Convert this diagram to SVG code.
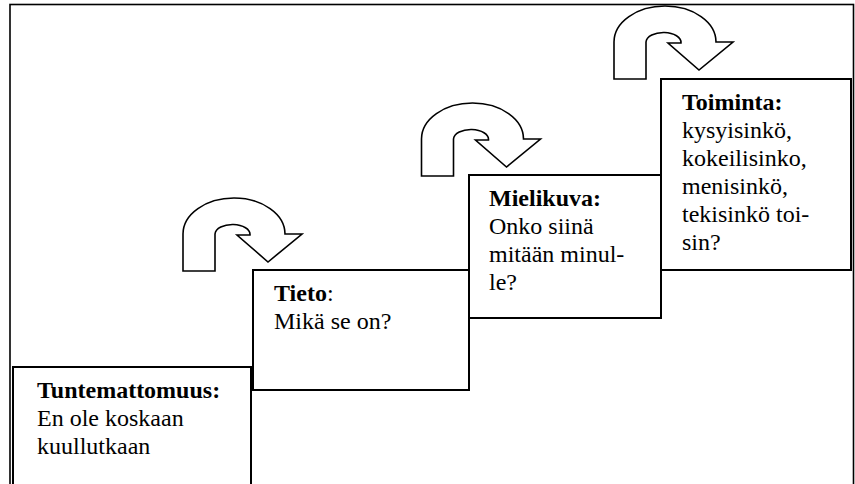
<svg xmlns="http://www.w3.org/2000/svg" width="855" height="484" viewBox="0 0 855 484">
<style>
.frame{fill:none;stroke:#000;stroke-width:1.6}
.box{fill:#fff;stroke:#000;stroke-width:2}
.arrow{fill:#fff;stroke:#000;stroke-width:1.6;stroke-linejoin:miter}
.b{font-weight:bold}
</style>
<defs>
<path id="uturn" d="M0 73 L0 36 A51 36 0 0 1 102 36 L119 36 L85 64 L54 37 L67 37 A17.5 10 0 0 0 32 36 L32 73 Z"/>
</defs>
<rect width="855" height="484" fill="#fff"/>
<rect class="frame" x="10" y="4.5" width="843.5" height="500"/>
<g id="connectors">
<use href="#uturn" class="arrow" transform="translate(183,198)"/>
<use href="#uturn" class="arrow" transform="translate(421.5,103)"/>
<use href="#uturn" class="arrow" transform="translate(614,6)"/>
</g>
<g font-family="'Liberation Serif', 'Times New Roman', serif" font-size="24" fill="#000">
<g id="tuntemattomuus">
<rect class="box" x="13" y="367" width="238" height="130"/>
<text x="37" y="398" class="b">Tuntemattomuus:</text>
<text x="37" y="426">En ole koskaan</text>
<text x="37" y="454">kuullutkaan</text>
</g>
<g id="tieto">
<rect class="box" x="253" y="270" width="216" height="120"/>
<text x="274" y="301"><tspan class="b">Tieto</tspan>:</text>
<text x="274" y="329">Mikä se on?</text>
</g>
<g id="mielikuva">
<rect class="box" x="469" y="175" width="192" height="143"/>
<text x="489" y="206" class="b">Mielikuva:</text>
<text x="489" y="234">Onko siinä</text>
<text x="489" y="262">mitään minul-</text>
<text x="489" y="290">le?</text>
</g>
<g id="toiminta">
<rect class="box" x="661" y="79" width="190" height="191"/>
<text x="682" y="110" class="b">Toiminta:</text>
<text x="682" y="138">kysyisinkö,</text>
<text x="682" y="166">kokeilisinko,</text>
<text x="682" y="194">menisinkö,</text>
<text x="682" y="222">tekisinkö toi-</text>
<text x="682" y="250">sin?</text>
</g>
</g>
</svg>
